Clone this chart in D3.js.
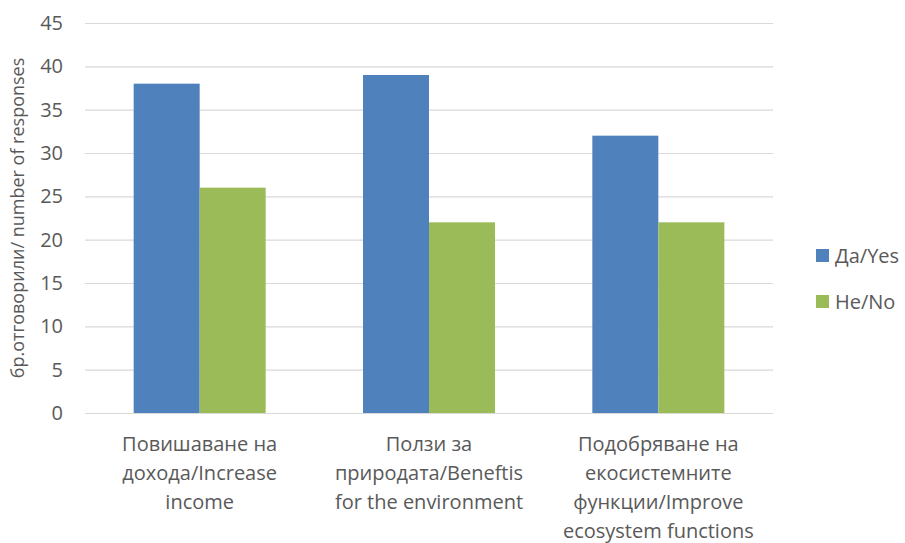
<!DOCTYPE html>
<html>
<head>
<meta charset="utf-8">
<script src="https://d3js.org/d3.v7.min.js"></script>
<style>
  body { margin: 0; background: #fff; }
  text { font-family: "Open Sans", "Noto Sans", sans-serif; fill: #595959; }
</style>
</head>
<body>
<div id="chart"></div>
<script>
  // data
  const categories = [
    "Повишаване на дохода/Increase income",
    "Ползи за природата/Beneftis for the environment",
    "Подобряване на екосистемните функции/Improve ecosystem functions"
  ];
  const categoryLines = [
    ["Повишаване на", "дохода/Increase", "income"],
    ["Ползи за", "природата/Beneftis", "for the environment"],
    ["Подобряване на", "екосистемните", "функции/Improve", "ecosystem functions"]
  ];
  const seriesNames = ["Да/Yes", "Не/No"];
  const yesValues = [38, 39, 32];
  const noValues = [26, 22, 22];
  const yTicks = [0, 5, 10, 15, 20, 25, 30, 35, 40, 45];
  const yTitle = "бр.отговорили/ number of responses";

  const colors = ["#4F81BD", "#9BBB59"];
  const series = [yesValues, noValues];

  const w = 905, h = 543;
  const plotL = 85, plotR = 773, plotT = 23, plotB = 413;

  const svg = d3.select("#chart").append("svg")
    .attr("width", w)
    .attr("height", h);

  const x = d3.scaleBand()
    .domain(categories)
    .range([plotL, plotR])
    .paddingInner(0)
    .paddingOuter(0);

  const groupW = 132;
  const x1 = d3.scaleBand()
    .domain(seriesNames)
    .range([0, groupW]);

  const y = d3.scaleLinear()
    .domain([0, 45])
    .range([plotB, plotT]);

  // gridlines
  svg.append("g")
    .selectAll("line")
    .data(yTicks)
    .join("line")
    .attr("x1", plotL)
    .attr("x2", plotR)
    .attr("y1", d => y(d) + 0.5)
    .attr("y2", d => y(d) + 0.5)
    .attr("stroke", "#D9D9D9")
    .attr("stroke-width", 1.2);

  // y tick labels
  const yAxis = d3.axisLeft(y).tickValues(yTicks).tickSize(0).tickPadding(0);
  const gy = svg.append("g")
    .attr("transform", "translate(63,0)")
    .call(yAxis);
  gy.select(".domain").remove();
  gy.selectAll("text")
    .style("font-size", "20px")
    .attr("fill", "#595959")
    .attr("font-family", "Open Sans, sans-serif");

  // bars
  series.forEach((vals, si) => {
    svg.append("g")
      .selectAll("rect")
      .data(vals)
      .join("rect")
      .attr("x", (d, i) => x(categories[i]) + x.bandwidth() / 2 - groupW / 2 + x1(seriesNames[si]))
      .attr("y", d => y(d))
      .attr("width", x1.bandwidth())
      .attr("height", d => y(0) - y(d))
      .attr("fill", colors[si]);
  });

  // category labels
  categories.forEach((c, i) => {
    const t = svg.append("text")
      .attr("x", x(c) + x.bandwidth() / 2)
      .attr("y", 451)
      .attr("text-anchor", "middle")
      .style("font-size", "20px");
    categoryLines[i].forEach((line, j) => {
      t.append("tspan")
        .attr("x", x(c) + x.bandwidth() / 2)
        .attr("dy", j === 0 ? 0 : 29)
        .text(line);
    });
  });

  // y axis title
  svg.append("text")
    .attr("transform", "translate(24," + ((plotT + plotB) / 2) + ") rotate(-90)")
    .attr("text-anchor", "middle")
    .style("font-size", "18px")
    .text(yTitle);

  // legend
  const legend = svg.append("g")
    .selectAll("g")
    .data(seriesNames)
    .join("g")
    .attr("transform", (d, i) => "translate(816," + (249 + i * 46) + ")");
  legend.append("rect")
    .attr("width", 13)
    .attr("height", 13)
    .attr("fill", (d, i) => colors[i]);
  legend.append("text")
    .attr("x", 19)
    .attr("y", 14)
    .style("font-size", "20px")
    .text(d => d);
</script>
</body>
</html>
